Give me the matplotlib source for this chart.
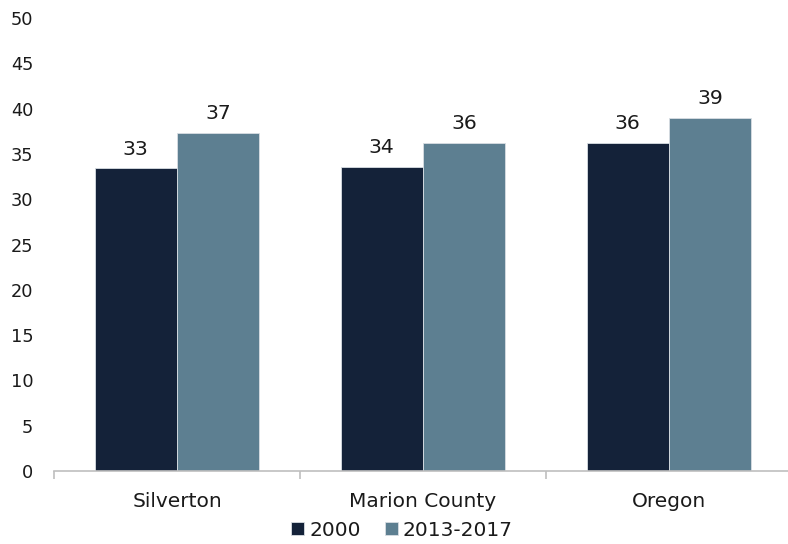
import numpy as np
import matplotlib.pyplot as plt
from matplotlib.ticker import FixedLocator, MultipleLocator, NullFormatter

places = ['Silverton', 'Marion County', 'Oregon']
series_names = ['2000', '2013-2017']
values_2000 = [33.4, 33.6, 36.2]
values_2017 = [37.3, 36.2, 39.0]
colors = ['#142239', '#5d7f91']

plt.rcParams['font.family'] = ['DejaVu Sans']
text_color = '#1a1a1a'

fig = plt.figure(figsize=(7.88, 5.44), dpi=100)
ax = fig.add_axes([54 / 788, 1 - 471 / 544, 734 / 788, 453 / 544])

x = np.arange(len(places))
width = 0.335

for i, (vals, name) in enumerate(zip([values_2000, values_2017], series_names)):
    pos = x + (i - 0.5) * width
    bars = ax.bar(pos, vals, width, color=colors[i], label=name,
                  edgecolor='#d9dee3', linewidth=0.6, zorder=2)
    for b, v in zip(bars, vals):
        ax.annotate(f'{v:.0f}', (b.get_x() + b.get_width() / 2, v),
                    xytext=(0, 7), textcoords='offset points',
                    ha='center', va='bottom', fontsize=14.7, color=text_color)

ax.set_ylim(0, 50)
ax.set_xlim(-0.5, 2.5 - 4 / 246)
ax.yaxis.set_major_locator(MultipleLocator(5))
ax.tick_params(axis='y', length=0, labelsize=12.8, pad=15, labelcolor=text_color)

# category labels sit at bar centres, ticks mark the group boundaries
ax.set_xticks(x)
ax.set_xticklabels(places, fontsize=14.5, color=text_color)
ax.tick_params(axis='x', which='major', length=0, pad=15)
ax.xaxis.set_minor_locator(FixedLocator([-0.5, 0.5, 1.5]))
ax.xaxis.set_minor_formatter(NullFormatter())
ax.tick_params(axis='x', which='minor', length=6, width=1.2, color='#bfbfbf')

for side in ['left', 'right', 'top']:
    ax.spines[side].set_visible(False)
ax.spines['bottom'].set_color('#bfbfbf')
ax.spines['bottom'].set_linewidth(1.2)

ax.legend(loc='center', bbox_to_anchor=(402 / 788, 1 - 530 / 544),
          bbox_transform=fig.transFigure, ncol=2, frameon=False,
          fontsize=14.5, handlelength=0.65, handleheight=0.65,
          handletextpad=0.25, columnspacing=1.2, borderpad=0,
          labelcolor=text_color)

fig.savefig('out.png', dpi=100)
